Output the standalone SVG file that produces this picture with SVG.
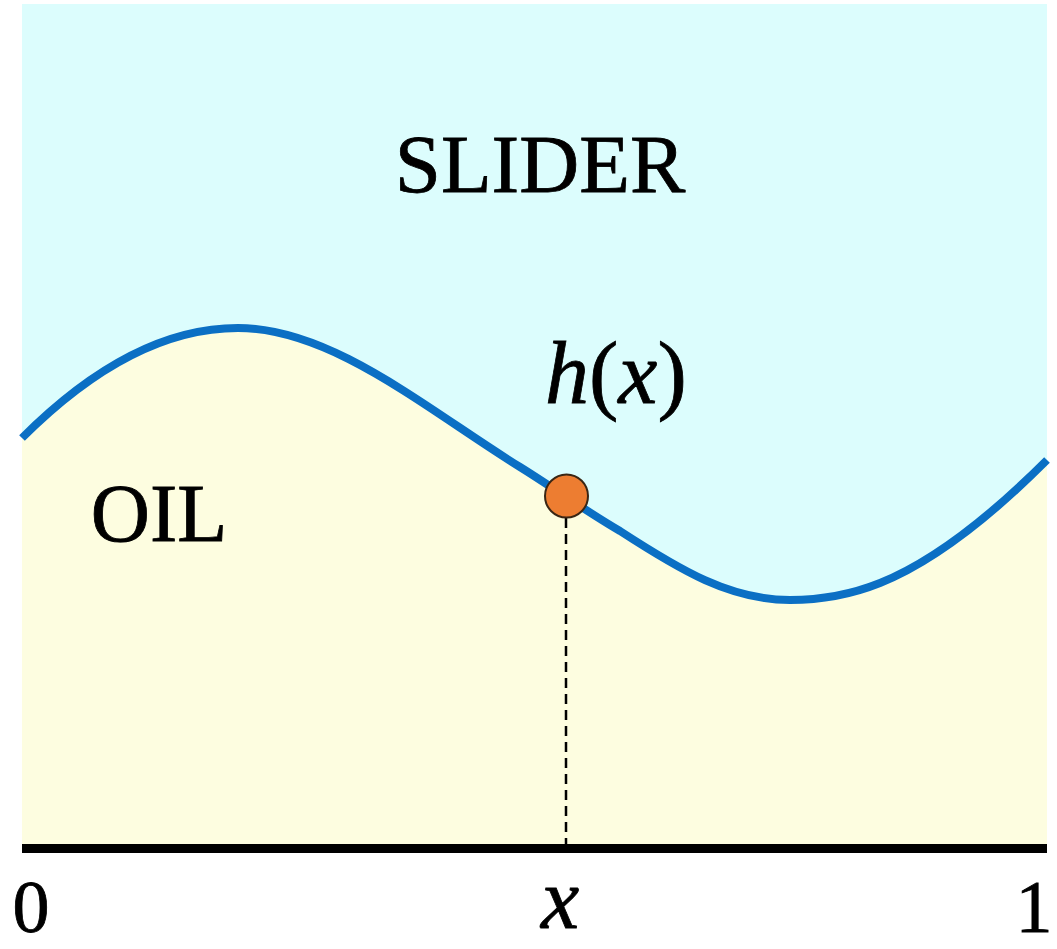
<svg xmlns="http://www.w3.org/2000/svg" width="1057" height="949" viewBox="0 0 1057 949">
<style>
.lbl{font-family:"Liberation Serif","Times New Roman",serif;fill:#000;stroke:#000;stroke-width:0.8}
.it{font-style:italic}
</style>
<rect width="1057" height="949" fill="#ffffff"/>
<g id="slider">
<rect x="22" y="4" width="1025" height="842" fill="#dcfdfd"/>
<text class="lbl" x="540" y="192" font-size="83" text-anchor="middle">SLIDER</text>
</g>
<g id="oil">
<path d="M22,438 C94,366 166,328 238,328 C332,328 426,408.7 520,467 C553.3,487.7 586.7,511.7 620,531 C680,570 730,600 790,600 C820,600 850,595 880,583 C935.7,560.7 991.3,515.7 1047,460 L1047,846 L22,846 Z" fill="#fdfde0"/>
<text class="lbl" x="159" y="541" font-size="82" text-anchor="middle">OIL</text>
</g>
<g id="connectors">
<path id="curve" d="M22,438 C94,366 166,328 238,328 C332,328 426,408.7 520,467 C553.3,487.7 586.7,511.7 620,531 C680,570 730,600 790,600 C820,600 850,595 880,583 C935.7,560.7 991.3,515.7 1047,460" fill="none" stroke="#0b6fc4" stroke-width="8"/>
<line x1="566" y1="518" x2="566" y2="845" stroke="#000" stroke-width="2.5" stroke-dasharray="10,6"/>
<rect x="22" y="844" width="1025" height="9" fill="#000"/>
</g>
<g id="point">
<circle cx="566.5" cy="496" r="21.5" fill="#ed7d31" stroke="#3a2614" stroke-width="2"/>
<text class="lbl" x="545" y="403" font-size="88"><tspan class="it">h</tspan>(<tspan class="it">x</tspan>)</text>
</g>
<g id="axis-labels">
<text class="lbl" x="31" y="932" font-size="74" text-anchor="middle">0</text>
<text class="lbl" x="1034" y="932" font-size="74" text-anchor="middle">1</text>
<text class="lbl it" x="560" y="928" font-size="86" text-anchor="middle">x</text>
</g>
</svg>
